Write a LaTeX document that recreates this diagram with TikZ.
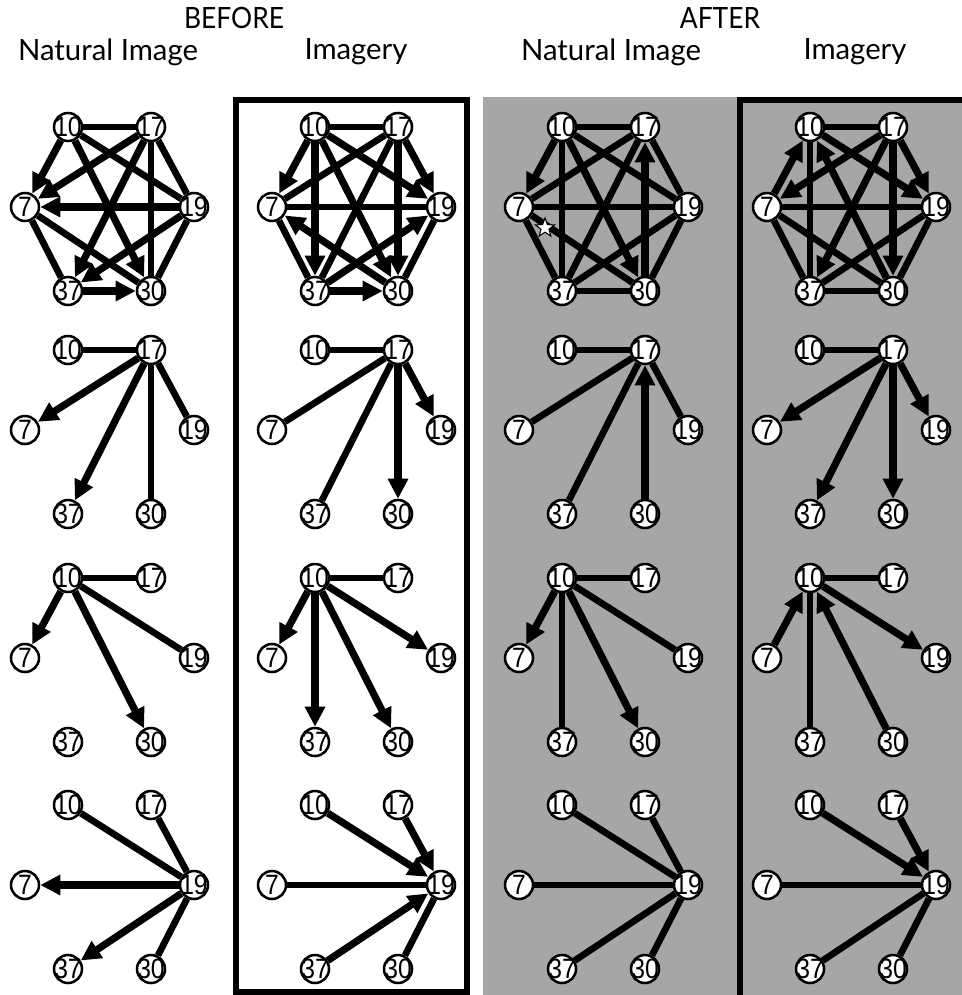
\documentclass[tikz,border=0pt]{standalone}
\usepackage{fontspec}
\setmainfont{Lato}
\newfontfamily\numfont{Liberation Sans}
\usetikzlibrary{arrows.meta,shapes.geometric}
\pgfdeclarelayer{bg}
\pgfdeclarelayer{edges}
\pgfsetlayers{bg,edges,main}
\definecolor{bggray}{RGB}{166,166,166}
\newcommand\drawpanel[2]{\foreach \a/\b/\s in {#2}{\draw[\s] (p#1-\a) -- (p#1-\b);}}
\begin{document}
\begin{tikzpicture}[x=0.75pt,y=-0.75pt,
  nd/.style={circle,draw,line width=1.9pt,fill=white,minimum size=21pt,inner sep=0pt},
  nl/.style={inner sep=0pt,font=\numfont\fontsize{21}{21}\selectfont},
  ln/.style={line width=5pt},
  ar/.style={line width=5.4pt,-{Triangle[length=15pt,width=14.5pt]}},
  hd/.style={font=\fontsize{22}{24}\selectfont},
  frame/.style={line width=3.8pt}]
\useasboundingbox (0,0) rectangle (962,995);
\begin{pgfonlayer}{bg}
\fill[white] (0,0) rectangle (962,995);
\fill[bggray] (483,97) rectangle (962,995);
\end{pgfonlayer}
\draw[frame] (236,100) rectangle (467,992);
\draw[frame] (740,995) -- (740,100) -- (962,100);
\node[hd] (before) at (234,18) {\scalebox{0.9}[1]{BEFORE}};
\node[hd] (after) at (720,18) {\scalebox{0.9}[1]{AFTER}};
\node[hd] (h1) at (108,52) {Natural Image};
\node[hd] (h2) at (356,52) {Imagery};
\node[hd] (h3) at (611,52) {Natural Image};
\node[hd] (h4) at (855,52) {Imagery};
\foreach \c/\bx in {1/68,2/315,3/562,4/810}{
  \foreach \r/\by in {1/127,2/350,3/578,4/805}{
    \foreach \n/\dx/\dy in {10/0/0,17/83/0,7/-43/80,19/126/80,37/0/164,30/83/164}{
      \node[nd,label={[nl]center:\scalebox{0.88}[1]{\n}}] (p\c\r-\n) at (\bx+\dx,\by+\dy) {};
    }}}
\begin{pgfonlayer}{edges}
% BEFORE natural
\drawpanel{11}{10/17/ln,10/19/ln,17/30/ln,17/19/ln,7/37/ln,7/30/ln,19/30/ln,10/7/ar,17/7/ar,19/7/ar,10/30/ar,17/37/ar,19/37/ar,37/30/ar}
\drawpanel{12}{10/17/ln,17/7/ar,17/37/ar,17/30/ln,17/19/ln}
\drawpanel{13}{10/17/ln,10/7/ar,10/19/ln,10/30/ar}
\drawpanel{14}{10/19/ln,17/19/ln,19/7/ar,19/37/ar,19/30/ln}
% BEFORE imagery
\drawpanel{21}{10/17/ln,10/7/ar,10/37/ar,10/30/ar,10/19/ar,17/7/ln,17/37/ln,17/30/ar,17/19/ar,19/7/ln,37/19/ar,30/19/ln,30/7/ar,7/37/ln,37/30/ar}
\drawpanel{22}{10/17/ln,17/7/ln,17/37/ln,17/30/ar,17/19/ar}
\drawpanel{23}{10/17/ln,10/7/ar,10/37/ar,10/30/ar,10/19/ar}
\drawpanel{24}{10/19/ar,17/19/ar,7/19/ln,37/19/ar,30/19/ln}
% AFTER natural
\drawpanel{31}{10/17/ln,10/7/ar,10/37/ln,10/30/ar,10/19/ln,17/7/ln,17/37/ln,30/17/ar,17/19/ln,7/19/ln,7/37/ln,7/30/ln,37/19/ln,30/19/ln,37/30/ln}
\drawpanel{32}{10/17/ln,17/7/ln,17/37/ln,30/17/ar,17/19/ln}
\drawpanel{33}{10/17/ln,10/7/ar,10/37/ln,10/30/ar,10/19/ln}
\drawpanel{34}{10/19/ln,17/19/ln,7/19/ln,37/19/ln,30/19/ln}
% AFTER imagery
\drawpanel{41}{10/17/ln,7/10/ar,10/37/ln,30/10/ar,10/19/ar,17/7/ar,17/37/ar,17/30/ar,17/19/ar,7/19/ln,7/37/ln,7/30/ln,37/19/ln,30/19/ln,37/30/ln}
\drawpanel{42}{10/17/ln,17/7/ar,17/37/ar,17/30/ar,17/19/ar}
\drawpanel{43}{10/17/ln,7/10/ar,10/37/ln,30/10/ar,10/19/ar}
\drawpanel{44}{10/19/ar,17/19/ar,7/19/ln,37/19/ln,30/19/ln}
\end{pgfonlayer}
\node[star,star points=5,star point ratio=2.4,draw,fill=white,line width=0.8pt,minimum size=15pt,inner sep=0pt] (star) at (545,228) {};
\end{tikzpicture}
\end{document}
